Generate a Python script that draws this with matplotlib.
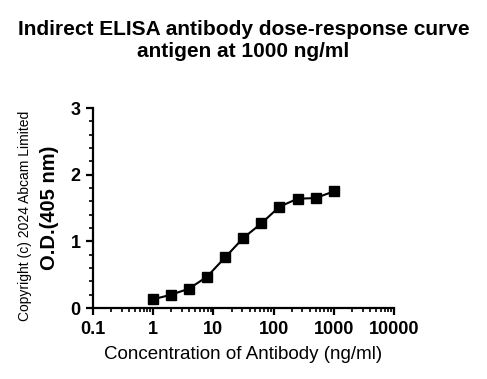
import matplotlib
matplotlib.use("Agg")
import matplotlib.pyplot as plt
from matplotlib.ticker import MultipleLocator, LogLocator, NullFormatter, FixedLocator, FixedFormatter

plt.rcParams['font.family'] = ['Liberation Sans', 'DejaVu Sans']

# data
conc = [0.977, 1.953, 3.906, 7.8125, 15.625, 31.25, 62.5, 125, 250, 500, 1000]
od = [0.13, 0.20, 0.29, 0.47, 0.76, 1.05, 1.27, 1.52, 1.64, 1.65, 1.75]
xticks = [0.1, 1, 10, 100, 1000, 10000]
xtick_labels = ["0.1", "1", "10", "100", "1000", "10000"]
yticks = [0, 1, 2, 3]

fig = plt.figure(figsize=(4.87, 3.79), dpi=100)
ax = fig.add_axes([0.191, 0.187, 0.618, 0.528])

ax.plot(conc, od, color='black', lw=1.5, marker='s', ms=7.5, mec='black', mfc='black')

ax.set_xscale('log')
ax.set_xlim(0.1, 10000)
ax.set_ylim(0, 3)
ax.xaxis.set_major_locator(FixedLocator(xticks))
ax.xaxis.set_major_formatter(FixedFormatter(xtick_labels))
ax.xaxis.set_minor_locator(LogLocator(base=10, subs=range(2, 10)))
ax.xaxis.set_minor_formatter(NullFormatter())
ax.set_yticks(yticks)
ax.yaxis.set_minor_locator(MultipleLocator(0.2))

for s in ['top', 'right']:
    ax.spines[s].set_visible(False)
for s in ['left', 'bottom']:
    ax.spines[s].set_linewidth(1.6)

ax.tick_params(which='major', direction='out', length=5, width=1.6, labelsize=13, pad=4)
ax.tick_params(which='minor', direction='out', length=3, width=1.2)
for lab in ax.get_xticklabels() + ax.get_yticklabels():
    lab.set_fontweight('bold')

ax.set_xlabel("Concentration of Antibody (ng/ml)", fontsize=13.5, labelpad=6)
ax.set_ylabel("O.D.(405 nm)", fontsize=14.5, fontweight='bold', labelpad=8)

fig.text(0.5, 0.892, "Indirect ELISA antibody dose-response curve\nantigen at 1000 ng/ml",
         ha='center', va='center', fontsize=15, fontweight='bold', linespacing=1.2)
fig.text(0.051, 0.43, "Copyright (c) 2024 Abcam Limited", rotation=90,
         ha='center', va='center', fontsize=10)

fig.savefig("out.png", dpi=100)
